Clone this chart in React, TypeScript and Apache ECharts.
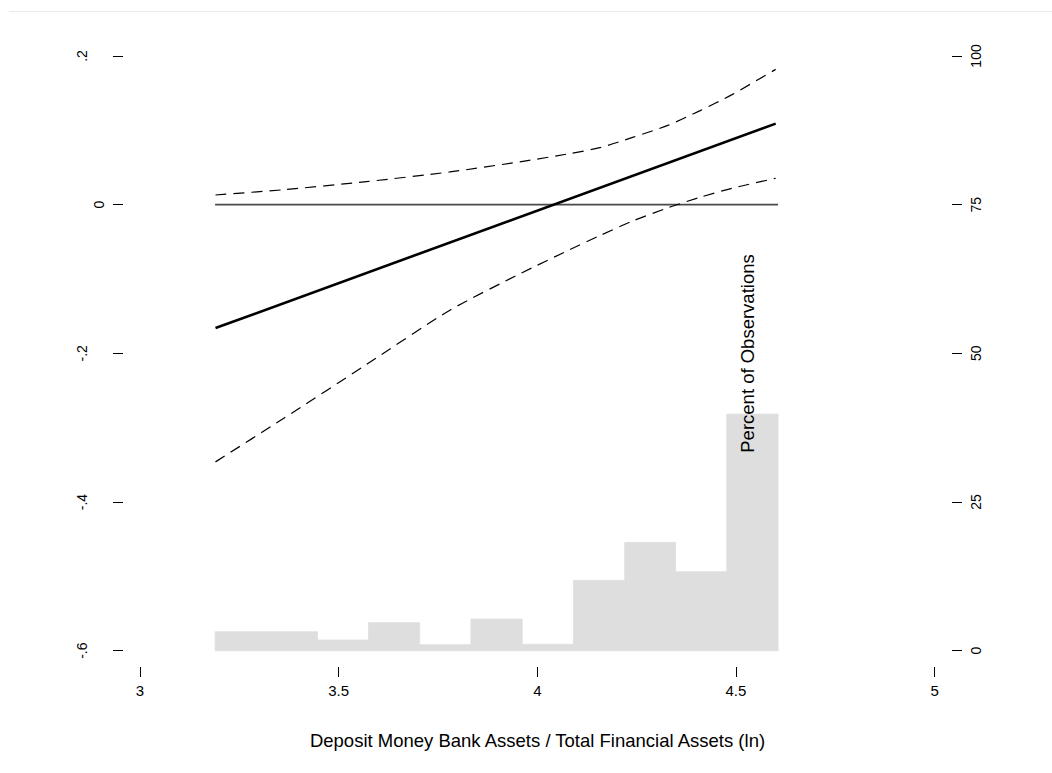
import React, { useEffect, useRef } from "react";
import * as echarts from "echarts";

// Marginal effect of the financial-structure variable, with 95% confidence bounds
const effectX = [3.19, 4.6];
const effectY = [-0.166, 0.109];

const ciX = [3.19, 3.36, 3.57, 3.78, 3.96, 4.08, 4.16, 4.24, 4.33, 4.41, 4.49, 4.6];
const ciUpper = [0.013, 0.02, 0.031, 0.044, 0.058, 0.0685, 0.077, 0.0905, 0.107, 0.1265, 0.148, 0.182];
const ciLower = [-0.346, -0.288, -0.215, -0.142, -0.092, -0.061, -0.041, -0.022, -0.004, 0.01, 0.022, 0.0355];

// Distribution of the moderating variable (percent of observations per bin)
const binEdges = [3.189, 3.318, 3.447, 3.575, 3.704, 3.833, 3.962, 4.091, 4.22, 4.348, 4.477, 4.606];
const binPercents = [3.19, 3.19, 1.8, 4.71, 1.0, 5.33, 1.08, 11.83, 18.22, 13.28, 39.78];

const xTicks = [3, 3.5, 4, 4.5, 5];
const effectTicks = [-0.6, -0.4, -0.2, 0, 0.2];
const percentTicks = [0, 25, 50, 75, 100];

const X_TITLE = "Deposit Money Bank Assets / Total Financial Assets (ln)";
const HIST_TITLE = "Percent of Observations";

const FONT = "'Liberation Sans', Arial, Helvetica, sans-serif";

// Axis extents (a little padding beyond the outer ticks)
const X_MIN = 2.9572;
const X_MAX = 5.0438;
const Y_MIN = -0.62193;
const Y_MAX = 0.2215;
const P_MIN = (Y_MIN + 0.6) * 125;
const P_MAX = (Y_MAX + 0.6) * 125;

const fmtEffect = (v: number) => {
  if (Math.abs(v) < 1e-9) return "0";
  const s = v.toFixed(1);
  return s.replace(/^(-?)0\./, "$1.");
};

export default function App() {
  const ref = useRef<HTMLDivElement>(null);

  useEffect(() => {
    if (!ref.current) return;
    const chart = echarts.init(ref.current, null, { renderer: "svg" });

    const zip = (xs: number[], ys: number[]) => xs.map((x, i) => [x, ys[i]]);
    const histData = binPercents.map((p, i) => [binEdges[i], binEdges[i + 1], p]);

    const tickStyle = { show: true, length: 10, inside: false, lineStyle: { color: "#000", width: 1 } };

    chart.setOption({
      animation: false,
      backgroundColor: "#fff",
      textStyle: { fontFamily: FONT },
      grid: { left: 123, right: 100, top: 40, bottom: 106, containLabel: false },
      xAxis: {
        type: "value",
        min: X_MIN,
        max: X_MAX,
        splitLine: { show: false },
        axisLine: { show: false, onZero: false },
        axisTick: { ...tickStyle, customValues: xTicks },
        axisLabel: {
          customValues: xTicks,
          margin: 16,
          fontSize: 15,
          color: "#000",
          fontFamily: FONT,
          formatter: (v: number) => String(v),
        },
        name: X_TITLE,
        nameLocation: "middle",
        nameGap: 64,
        nameTextStyle: { fontSize: 18.5, color: "#000", fontFamily: FONT },
      },
      yAxis: [
        {
          type: "value",
          position: "left",
          min: Y_MIN,
          max: Y_MAX,
          splitLine: { show: false },
          axisLine: { show: false, onZero: false },
          axisTick: { ...tickStyle, customValues: effectTicks },
          axisLabel: {
            customValues: effectTicks.filter((v) => v !== 0),
            rotate: 90,
            margin: 34,
            fontSize: 14,
            color: "#000",
            fontFamily: FONT,
            formatter: fmtEffect,
          },
        },
        {
          type: "value",
          position: "right",
          min: P_MIN,
          max: P_MAX,
          splitLine: { show: false },
          axisLine: { show: false, onZero: false },
          axisTick: { ...tickStyle, customValues: percentTicks },
          axisLabel: {
            customValues: percentTicks,
            rotate: 90,
            margin: 17,
            fontSize: 14,
            color: "#000",
            fontFamily: FONT,
            formatter: (v: number) => String(v),
          },
        },
        {
          // zero label of the effect axis sits closer to its tick
          type: "value",
          position: "left",
          min: Y_MIN,
          max: Y_MAX,
          splitLine: { show: false },
          axisLine: { show: false, onZero: false },
          axisTick: { show: false },
          axisLabel: {
            customValues: [0],
            rotate: 90,
            margin: 17,
            fontSize: 14,
            color: "#000",
            fontFamily: FONT,
            formatter: fmtEffect,
          },
        },
      ],
      graphic: [
        {
          type: "line",
          shape: { x1: 9, y1: 11.5, x2: 1052, y2: 11.5 },
          style: { stroke: "#e9e9e9", lineWidth: 1 },
          silent: true,
        },
        {
          type: "text",
          x: 747,
          y: 353.5,
          rotation: Math.PI / 2,
          z: 100,
          style: {
            text: HIST_TITLE,
            fontSize: 18.5,
            fontFamily: FONT,
            fill: "#000",
            align: "center",
            verticalAlign: "middle",
          },
          silent: true,
        },
      ],
      series: [
        {
          type: "custom",
          xAxisIndex: 0,
          yAxisIndex: 1,
          encode: { x: [0, 1], y: 2 },
          data: histData,
          z: 1,
          silent: true,
          renderItem: (_params: any, api: any) => {
            const a = api.coord([api.value(0), api.value(2)]);
            const b = api.coord([api.value(1), 0]);
            return {
              type: "rect",
              shape: { x: a[0], y: a[1], width: b[0] - a[0], height: b[1] - a[1] },
              style: { fill: "#dedede", stroke: "#dedede", lineWidth: 0.8 },
            };
          },
        },
        {
          type: "line",
          data: [
            [binEdges[0], 0],
            [binEdges[binEdges.length - 1], 0],
          ],
          showSymbol: false,
          symbol: "none",
          lineStyle: { color: "#4a4a4a", width: 1.6 },
          z: 3,
          silent: true,
        },
        {
          type: "line",
          data: zip(ciX, ciUpper),
          smooth: 0.25,
          symbol: "none",
          lineStyle: { color: "#000", width: 1.2, type: [11, 7] },
          z: 4,
          silent: true,
        },
        {
          type: "line",
          data: zip(ciX, ciLower),
          smooth: 0.25,
          symbol: "none",
          lineStyle: { color: "#000", width: 1.2, type: [11, 7] },
          z: 4,
          silent: true,
        },
        {
          type: "line",
          data: zip(effectX, effectY),
          symbol: "none",
          lineStyle: { color: "#000", width: 2.6 },
          z: 5,
          silent: true,
        },
      ],
    });

    return () => chart.dispose();
  }, []);

  return (
    <div
      ref={ref}
      style={{ position: "fixed", left: 0, top: 0, width: 1052, height: 773, background: "#fff" }}
    />
  );
}
